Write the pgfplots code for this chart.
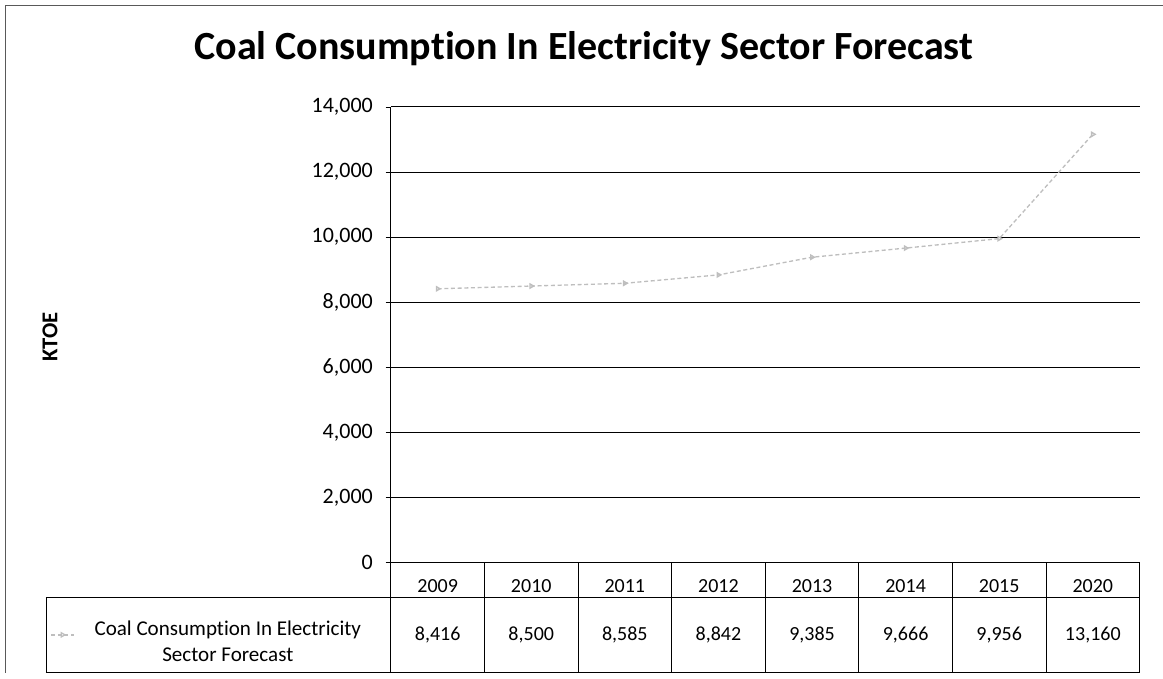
\documentclass[border=0pt]{standalone}
\usepackage{pgfplots}
\pgfplotsset{compat=1.18}
\usepackage{fontspec}
\setmainfont[Ligatures=NoCommon]{Carlito}
\definecolor{lineg}{RGB}{190,190,190}
\begin{document}
\begin{tikzpicture}
\begin{axis}[
  at={(0pt,0pt)}, anchor=south west,
  scale only axis, width=561.75pt, height=342pt,
  xmin=-0.5, xmax=7.5, ymin=0, ymax=14000,
  xtick={0,1,2,3,4,5,6,7},
  xticklabels={2009,2010,2011,2012,2013,2014,2015,2020},
  xticklabel style={anchor=center, yshift=-13.1pt, font=\fontsize{15}{17}\selectfont},
  x tick style={draw=none},
  ytick={0,2000,4000,6000,8000,10000,12000,14000},
  ymajorgrids, grid style={black, line width=0.7pt},
  axis x line*=bottom, axis y line*=left,
  axis line style={black, line width=0.7pt},
  y tick style={black, line width=0.6pt}, tick align=outside, major tick length=4pt,
  yticklabel style={font=\fontsize{16.5}{18}\selectfont, xshift=-6pt},
  /pgf/number format/1000 sep={,},
  /pgf/number format/assume math mode=true,
  scaled y ticks=false,
  clip=false,
  legend style={at={(-0.455,-0.158)}, anchor=west, draw=none, fill=none,
    font=\fontsize{15.8}{18}\selectfont, inner sep=0pt},
  legend cell align=left,
]
\addplot[color=lineg, line width=1pt, dash pattern=on 3pt off 2pt,
  mark=triangle, mark options={solid, rotate=-90, scale=0.9, lineg}]
  coordinates {(0,8416) (1,8500) (2,8585) (3,8842) (4,9385) (5,9666) (6,9956) (7,13160)};
\addlegendentry{\hspace{13pt}\begin{tabular}{@{}c@{}}Coal Consumption In Electricity\\[1pt]Sector Forecast\end{tabular}}
\addplot[draw=none, mark=none, forget plot, point meta=explicit,
  nodes near coords,
  every node near coord/.append style={anchor=center, font=\fontsize{15}{17}\selectfont, black}]
  coordinates {(0,-2210) [8416] (1,-2210) [8500] (2,-2210) [8585] (3,-2210) [8842]
               (4,-2210) [9385] (5,-2210) [9666] (6,-2210) [9956] (7,-2210) [13160]};
\end{axis}
% data table lines
\def\cw{70.21875}
\draw[black, line width=0.7pt] (-258.75pt,-26.25pt) -- (561.75pt,-26.25pt);
\draw[black, line width=0.7pt] (-258.75pt,-82.5pt) -- (561.75pt,-82.5pt);
\draw[black, line width=0.7pt] (-258.75pt,-26.25pt) -- (-258.75pt,-82.5pt);
\draw[black, line width=0.7pt] (0pt,0pt) -- (0pt,-82.5pt);
\foreach \k in {1,...,8} {
  \draw[black, line width=0.7pt] ({\k*\cw*1pt},0pt) -- ({\k*\cw*1pt},-82.5pt);
}
% title and axis label
\node[font=\fontsize{30}{36}\selectfont\bfseries] at (144.75pt,386pt) {Coal Consumption In Electricity Sector Forecast};
\node[font=\fontsize{17}{20}\selectfont\bfseries, rotate=90] at (-255.75pt,169.5pt) {KTOE};
% outer frame
\draw[gray!70!black, line width=0.6pt] (-289.5pt,-82.5pt) -- (-289.5pt,418.5pt) -- (579pt,418.5pt);
\useasboundingbox (-293.25pt,-87pt) rectangle (579pt,422.25pt);
\end{tikzpicture}
\end{document}
